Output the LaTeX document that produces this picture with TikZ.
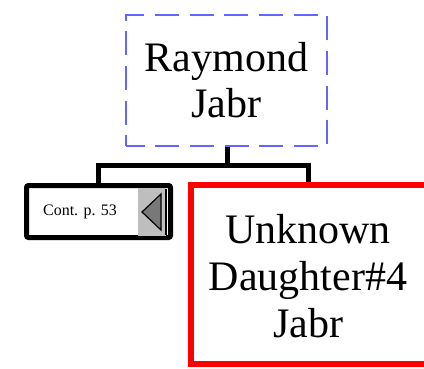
\documentclass[tikz,border=0pt]{standalone}
\usepackage{fontspec}
\setmainfont{Liberation Serif}
\begin{document}
\begin{tikzpicture}[x=0.75pt,y=-0.75pt,
  bigtext/.style={font=\fontsize{31.5}{35.25}\selectfont, align=center},
  link/.style={draw=black, line width=3.75pt, line join=miter},
  ]
\useasboundingbox (0,0) rectangle (424,368);
% parent box
\node[draw={rgb,255:red,100;green,100;blue,255}, line width=1.1pt,
  dash pattern=on 18pt off 8pt, dash phase=4pt,
  minimum width=150.75pt, minimum height=98.25pt, inner sep=0pt,
  font=\fontsize{31.5}{34.5}\selectfont, align=center] (parent) at (226.5,80.5) {Raymond\\Jabr};
% continuation box
\node[draw=black, line width=3.75pt, rounded corners=1.5pt,
  minimum width=108pt, minimum height=39pt, inner sep=0pt] (cont) at (98.5,211.5) {};
\node[fill={rgb,255:red,190;green,190;blue,190}, minimum width=21pt, minimum height=36pt,
  inner sep=0pt] (grayarea) at (151.5,211.5) {};
\node[font=\fontsize{12}{14}\selectfont, inner sep=0pt] (conttext) at (80,212) {Cont. p. 53};
\draw[black, line width=0.8pt] (166,189) -- (166,235);
\draw[black, line width=0.9pt, fill={rgb,255:red,120;green,120;blue,120}, line join=miter]
  (142,212) -- (161,194) -- (161,230) -- cycle;
% child box (right side runs past the page edge)
\node[draw=red, line width=4.5pt, minimum width=183pt, minimum height=134.25pt,
  inner sep=0pt] (child) at (313,274.5) {};
\node[bigtext, inner sep=0pt] (childtext) at (308,276) {Unknown\\Daughter\#4\\Jabr};
% connectors
\coordinate (j) at (227,165);
\coordinate (cj) at (308.5,165);
\draw[link] (parent.south -| j) -- (j);
\draw[link] (cont.north) |- (cj) -- (cj |- child.north);
\end{tikzpicture}
\end{document}
